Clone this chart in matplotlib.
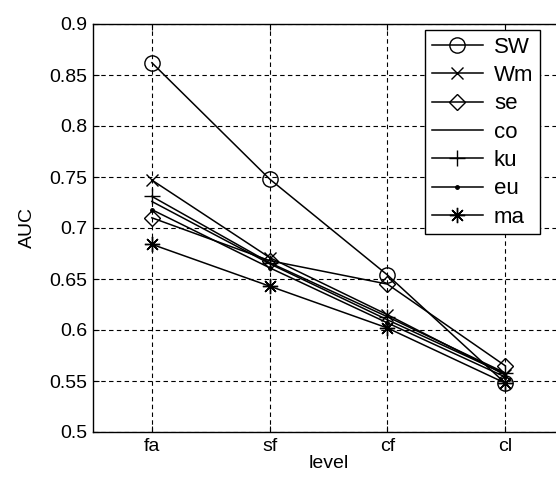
import numpy as np
import matplotlib
matplotlib.use("Agg")
import matplotlib.pyplot as plt

plt.rcParams['font.family'] = ['Liberation Sans', 'DejaVu Sans']

levels = ['fa', 'sf', 'cf', 'cl']
names = ['SW', 'Wm', 'se', 'co', 'ku', 'eu', 'ma']
sw = [0.862, 0.748, 0.654, 0.548]
wm = [0.747, 0.671, 0.615, 0.556]
se = [0.710, 0.668, 0.645, 0.565]
co = [0.726, 0.665, 0.610, 0.557]
ku = [0.731, 0.666, 0.613, 0.558]
eu = [0.718, 0.661, 0.607, 0.554]
ma = [0.684, 0.643, 0.602, 0.548]

series = [sw, wm, se, co, ku, eu, ma]
# MATLAB-like markers: open circle, cross, diamond, none, plus, dot, asterisk
markers = ['o', 'x', 'D', 'None', '+', '.', (8, 2, 0)]
msizes = [11, 9, 8, 0, 12, 5, 11]

fig = plt.figure(figsize=(5.56, 4.8), dpi=100)
ax = fig.add_axes([93/556, 48/480, 471/556, 408/480])

x = np.arange(1, len(levels) + 1)
for vals, name, m, ms in zip(series, names, markers, msizes):
    ax.plot(x, vals, color='black', lw=1.1, marker=m, markersize=ms,
            markerfacecolor='none' if m in ('o', 'D') else 'black',
            markeredgecolor='black', markeredgewidth=1.0, label=name)

ax.set_xlim(0.5, 4.5)
ax.set_ylim(0.5, 0.9)
ax.set_xticks(x)
ax.set_xticklabels(levels)
ax.set_yticks(np.arange(0.5, 0.91, 0.05))
ax.set_yticklabels(['0.5', '0.55', '0.6', '0.65', '0.7', '0.75', '0.8', '0.85', '0.9'])
ax.grid(True, color='black', linestyle=(0, (4, 3)), lw=0.8)
ax.tick_params(direction='in', labelsize=14, length=4, top=True, right=True, pad=4)
ax.set_xlabel('level', fontsize=14, labelpad=0)
ax.set_ylabel('AUC', fontsize=14, labelpad=10)
for s in ax.spines.values():
    s.set_linewidth(1.0)

leg = ax.legend(loc='upper left', bbox_to_anchor=(332/471, 1 - 6/408), fontsize=16,
                fancybox=False, edgecolor='black', framealpha=1, handlelength=2.3,
                borderpad=0.3, labelspacing=0.33, handletextpad=0.5, borderaxespad=0)
leg.get_frame().set_linewidth(1.0)

fig.savefig('out.png', dpi=100)
